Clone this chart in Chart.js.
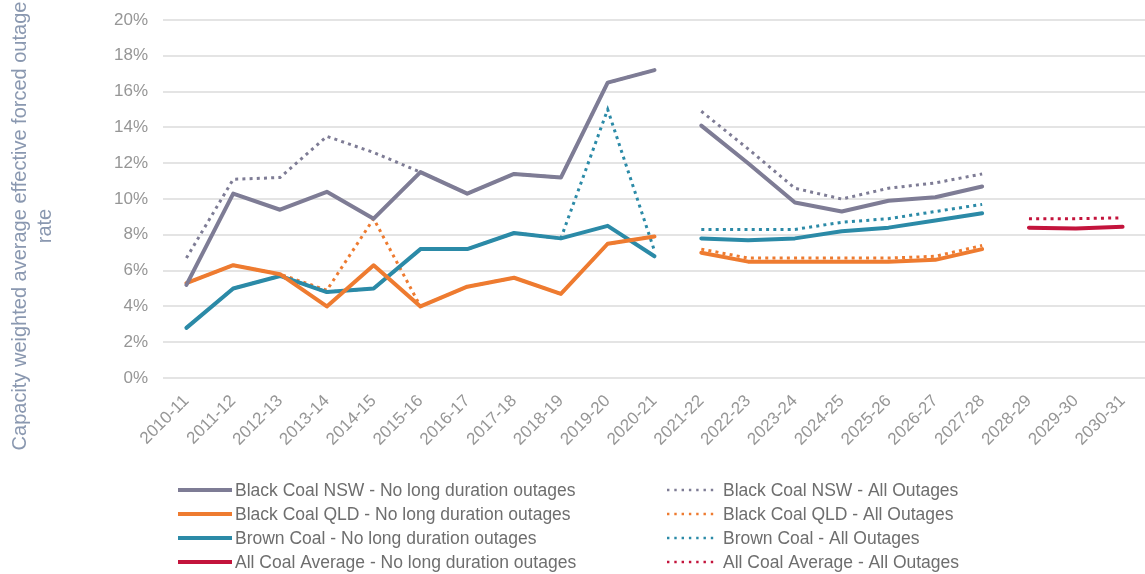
<!DOCTYPE html>
<html>
<head>
<meta charset="utf-8">
<script src="https://cdn.jsdelivr.net/npm/chart.js@4.4.1/dist/chart.umd.min.js"></script>
<style>
  html, body { margin: 0; padding: 0; background: #ffffff; overflow: hidden; }
  #wrap { width: 1150px; height: 574px; }
</style>
</head>
<body>
<div id="wrap"><canvas id="chart" width="1150" height="574"></canvas></div>
<script>
// Financial years on the category axis
const years = [
  '2010-11', '2011-12', '2012-13', '2013-14', '2014-15', '2015-16', '2016-17',
  '2017-18', '2018-19', '2019-20', '2020-21', '2021-22', '2022-23', '2023-24',
  '2024-25', '2025-26', '2026-27', '2027-28', '2028-29', '2029-30', '2030-31'
];

// Effective forced outage rate, % (actuals to 2020-21, forecasts after)
const nswNoLong   = [5.2, 10.3, 9.4, 10.4, 8.9, 11.5, 10.3, 11.4, 11.2, 16.5, 17.2, 14.1, 12.0, 9.8, 9.3, 9.9, 10.1, 10.7, null, null, null];
const nswAll      = [6.7, 11.1, 11.2, 13.5, 12.6, 11.5, 10.3, 11.4, 11.2, 16.5, 17.2, 14.9, 12.8, 10.6, 10.0, 10.6, 10.9, 11.4, null, null, null];
const qldNoLong   = [5.3, 6.3, 5.8, 4.0, 6.3, 4.0, 5.1, 5.6, 4.7, 7.5, 7.9, 7.0, 6.5, 6.5, 6.5, 6.5, 6.6, 7.2, null, null, null];
const qldAll      = [5.3, 6.3, 5.8, 4.9, 8.9, 4.0, 5.1, 5.6, 4.7, 7.5, 7.9, 7.2, 6.7, 6.7, 6.7, 6.7, 6.8, 7.4, null, null, null];
const brownNoLong = [2.8, 5.0, 5.7, 4.8, 5.0, 7.2, 7.2, 8.1, 7.8, 8.5, 6.8, 7.8, 7.7, 7.8, 8.2, 8.4, 8.8, 9.2, null, null, null];
const brownAll    = [2.8, 5.0, 5.7, 4.8, 5.0, 7.2, 7.2, 8.1, 7.8, 15.0, 7.1, 8.3, 8.3, 8.3, 8.7, 8.9, 9.3, 9.7, null, null, null];
const avgNoLong   = [null, null, null, null, null, null, null, null, null, null, null, null, null, null, null, null, null, null, 8.4, 8.35, 8.45];
const avgAll      = [null, null, null, null, null, null, null, null, null, null, null, null, null, null, null, null, null, null, 8.9, 8.9, 8.95];

// Y axis ticks
const yTicks = [0, 2, 4, 6, 8, 10, 12, 14, 16, 18, 20];
const yTitleLines = ['Capacity weighted average effective forced outage', 'rate'];

// Last actuals year: no line joins actuals to forecasts
const lastActual = years.indexOf('2020-21');

const FONT = "'Liberation Sans', Arial, Helvetica, sans-serif";
const COLORS = { nsw: '#7e7c95', qld: '#ee7b30', brown: '#2b8aa7', avg: '#c3143c' };

const splitSegment = {
  borderColor: ctx => (ctx.p0DataIndex === lastActual ? 'rgba(0,0,0,0)' : undefined)
};

function solid(label, data, color) {
  return {
    label, data, borderColor: color, backgroundColor: color,
    borderWidth: 4, pointRadius: 0, tension: 0, order: 0,
    borderCapStyle: 'round', borderJoinStyle: 'round',
    segment: splitSegment
  };
}
function dotted(label, data, color) {
  return {
    label, data, borderColor: color, backgroundColor: color,
    borderWidth: 3, borderDash: [3, 4.2], pointRadius: 0, tension: 0, order: 1,
    borderCapStyle: 'butt',
    segment: splitSegment
  };
}

const datasets = [
  solid('Black Coal NSW - No long duration outages', nswNoLong, COLORS.nsw),
  solid('Black Coal QLD - No long duration outages', qldNoLong, COLORS.qld),
  solid('Brown Coal - No long duration outages', brownNoLong, COLORS.brown),
  solid('All Coal Average - No long duration outages', avgNoLong, COLORS.avg),
  dotted('Black Coal NSW - All Outages', nswAll, COLORS.nsw),
  dotted('Black Coal QLD - All Outages', qldAll, COLORS.qld),
  dotted('Brown Coal - All Outages', brownAll, COLORS.brown),
  dotted('All Coal Average - All Outages', avgAll, COLORS.avg)
];

// Rotated two-line title beside the y axis
const yTitlePlugin = {
  id: 'yTitle',
  afterDraw(chart) {
    const ctx = chart.ctx;
    ctx.save();
    ctx.font = '20px ' + FONT;
    ctx.fillStyle = '#8a98b0';
    ctx.textAlign = 'center';
    ctx.textBaseline = 'middle';
    const cy = 226;
    const xs = [20, 45];
    yTitleLines.forEach((line, i) => {
      ctx.save();
      ctx.translate(xs[i], cy);
      ctx.rotate(-Math.PI / 2);
      ctx.fillText(line, 0, 0);
      ctx.restore();
    });
    ctx.restore();
  }
};

// Two-column legend: solid series on the left, dotted on the right
const legendPlugin = {
  id: 'twoColLegend',
  afterDraw(chart) {
    const ctx = chart.ctx;
    const ds = chart.data.datasets;
    const left = ds.filter(d => !d.borderDash);
    const right = ds.filter(d => d.borderDash);
    const rowY = i => 490 + i * 24;
    ctx.save();
    ctx.font = '17.5px ' + FONT;
    ctx.textBaseline = 'middle';
    ctx.textAlign = 'left';
    left.forEach((d, i) => {
      const y = rowY(i);
      ctx.beginPath();
      ctx.setLineDash([]);
      ctx.lineWidth = 4;
      ctx.lineCap = 'butt';
      ctx.strokeStyle = d.borderColor;
      ctx.moveTo(178, y); ctx.lineTo(232, y);
      ctx.stroke();
      ctx.fillStyle = '#6e6e6e';
      ctx.fillText(d.label, 235, y + 1);
    });
    right.forEach((d, i) => {
      const y = rowY(i);
      ctx.beginPath();
      ctx.setLineDash([2.4, 4.9]);
      ctx.lineWidth = 2.4;
      ctx.lineCap = 'butt';
      ctx.strokeStyle = d.borderColor;
      ctx.moveTo(667, y); ctx.lineTo(718, y);
      ctx.stroke();
      ctx.setLineDash([]);
      ctx.fillStyle = '#6e6e6e';
      ctx.fillText(d.label, 723, y + 1);
    });
    ctx.restore();
  }
};

Chart.defaults.font.family = FONT;

new Chart(document.getElementById('chart'), {
  type: 'line',
  data: { labels: years, datasets },
  options: {
    responsive: false,
    animation: false,
    layout: { padding: { top: 20, left: 0, right: 0, bottom: 0 } },
    plugins: { legend: { display: false }, tooltip: { enabled: false }, title: { display: false } },
    scales: {
      x: {
        offset: true,
        grid: { display: false, drawTicks: false },
        border: { display: false },
        ticks: {
          autoSkip: false, minRotation: 45, maxRotation: 45,
          color: '#969696', font: { size: 17 }, padding: 13
        },
        afterFit: scale => { scale.height = 196; }
      },
      y: {
        min: yTicks[0], max: yTicks[yTicks.length - 1],
        afterBuildTicks: scale => { scale.ticks = yTicks.map(v => ({ value: v })); },
        grid: { color: '#e4e4e4', lineWidth: 2, drawTicks: false },
        border: { display: false },
        ticks: {
          color: '#969696', font: { size: 17 }, padding: 15,
          callback: v => v + '%'
        },
        afterFit: scale => {
          scale.width = 163;
          scale.paddingTop = 0;
          scale.paddingBottom = 0;
        }
      }
    }
  },
  plugins: [yTitlePlugin, legendPlugin]
});
</script>
</body>
</html>
